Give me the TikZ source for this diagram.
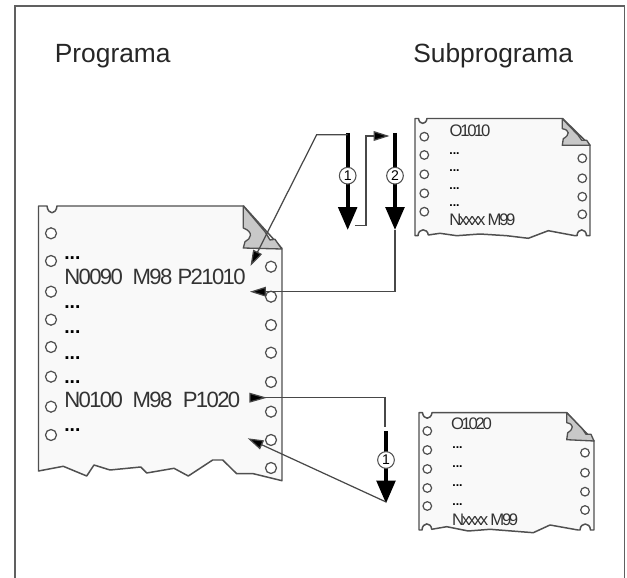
\documentclass[tikz,border=0pt]{standalone}
\usepackage{fontspec}
\setmainfont{Liberation Sans}
\newfontfamily\tightfont[LetterSpace=-7.5]{Liberation Sans}
\newfontfamily\smallfont[LetterSpace=-14]{Liberation Sans}
\usetikzlibrary{arrows.meta}
\definecolor{pagefill}{HTML}{F9F9F9}
\definecolor{foldfill}{HTML}{C8C8C8}
\definecolor{edgegray}{HTML}{505050}
\definecolor{linegray}{HTML}{484848}
\tikzset{
  page/.style={fill=pagefill, draw=edgegray, line width=0.85pt, line join=round},
  fold/.style={fill=foldfill, draw=edgegray, line width=0.75pt, line join=round},
  hole/.style={fill=white, draw=edgegray, line width=0.7pt},
  title/.style={anchor=base west, inner sep=0pt, font=\fontsize{15}{18}\selectfont, text=black!85},
  bigtext/.style={anchor=base west, inner sep=0pt, font=\fontsize{12.6}{15}\tightfont, text=black!80},
  smalltext/.style={anchor=base west, inner sep=0pt, font=\fontsize{9.5}{11}\smallfont, text=black!80},
  bigdots/.style={anchor=base west, inner sep=0pt, font=\fontsize{11}{13}\selectfont\bfseries},
  smalldots/.style={anchor=base west, inner sep=0pt, font=\fontsize{7}{8}\selectfont\bfseries},
  thin link/.style={draw=linegray, line width=0.7pt, line join=miter},
  link tip/.style={-{Triangle[length=9pt,width=5.5pt,fill=black]}},
  heavy/.style={draw=black, line width=2.2pt, -{Triangle[length=13pt,width=10.5pt,fill=black,sep=0pt]}, shorten >=0pt},
  number/.style={circle, draw=edgegray, fill=white, line width=0.6pt, inner sep=0pt, minimum size=9.5pt, font=\fontsize{8}{9}\selectfont}
}
\begin{document}
\begin{tikzpicture}[x=0.02cm, y=-0.02cm]
  \useasboundingbox (0,0) rectangle (627,578);
  % outer frame, open at the bottom
  \draw[draw=gray!75!black, line width=1.1pt] (15,578) -- (15,6) -- (624.5,6) -- (624.5,578);
  \node[title] (progtitle) at (54.5,63) {Programa};
  \node[title] (subtitle) at (413,63) {Subprograma};

  % main program sheet
  \draw[page] (38.5,206) -- (47,206) .. controls (48,215) and (56,215) .. (57,206) -- (243.5,206)
    -- (282,248.5) -- (282,480.7) -- (253.3,473.7) -- (236.7,473.7) -- (222.7,460) -- (212.7,460)
    -- (188.3,476) -- (174,468.3) -- (146.7,473) -- (140.7,467) -- (110,470) -- (94,465)
    -- (86.7,476) -- (63.3,466.3) -- (38.5,471) -- cycle;
  \draw[fold] (243.3,206) -- (243.3,228) .. controls (254,232) and (251,239) .. (245,241.7)
    -- (243.3,248) -- (281.7,249) -- (275,239.3) -- (270,240) -- (265,231.7) -- cycle;
  \foreach \yy in {233.3,261,291.7,319.7,347,376.7,406.7,435}
    \draw[hole] (51,\yy) circle[radius=5.5];
  \foreach \yy in {266.7,296.7,325,352.7,382,411.7,440,468}
    \draw[hole] (271,\yy) circle[radius=5.5];
  \node[bigdots] (maindotsa) at (64,259.5) {...};
  \node[bigtext] (calla) at (64,285) {N0090\hspace{5.5pt}M98\hspace{3pt}P21010};
  \foreach \yy/\nn in {309/b,334/c,359/d,383/e,432/f}
    \node[bigdots] (maindots\nn) at (64,\yy) {...};
  \node[bigtext] (callb) at (64,407.7) {N0100\hspace{5.5pt}M98\hspace{6pt}P1020};

  % first subprogram sheet
  \draw[page] (415,118.5) -- (418.5,118.5) .. controls (419.5,125) and (426,125) .. (427,118.5) -- (562.5,118.5)
    -- (590,145.3) -- (590,235.7) -- (586.5,235.7) .. controls (586,228) and (577.5,228) .. (577,235.7)
    -- (575,235.7) -- (548.3,230.7) -- (528.3,238.3) -- (506.7,235.7) -- (480,234) -- (456.7,235.7)
    -- (440,233.3) -- (428.3,235) .. controls (427.5,228) and (418.5,228) .. (418,235.7) -- (415,235.7) -- cycle;
  \draw[fold] (562.3,118.7) -- (562.3,128.7) .. controls (570,130) and (570,135) .. (563.3,138.7)
    -- (562.3,145.3) -- (590,145.3) -- (586.7,140.3) -- (581.7,140.3) -- (578.3,135.3) -- cycle;
  \foreach \yy in {136.7,155,174.3,193.3,211.7}
    \draw[hole] (424.3,\yy) circle[radius=4.3];
  \foreach \yy in {158.3,178.3,196.7,214.3}
    \draw[hole] (582.3,\yy) circle[radius=4.3];
  \node[smalltext] (subahead) at (449.3,136.7) {O1010};
  \foreach \yy/\nn in {154/a,172/b,190/c,207/d}
    \node[smalldots] (subadots\nn) at (449,\yy) {...};
  \node[smalltext] (subaend) at (449,225.7) {Nxxxx M99};

  % second subprogram sheet
  \draw[page] (419,412.7) -- (422.5,412.7) .. controls (423.5,420) and (431,420) .. (432,412.7) -- (566.7,412.7)
    -- (594,441) -- (594,530) -- (590.5,530) .. controls (590,522) and (580.5,522) .. (580,530)
    -- (578,530) -- (550,525) -- (533.3,532.7) -- (490,529.3) -- (468.3,531) -- (446.7,526.7)
    -- (431.7,529.3) .. controls (431,522) and (422.5,522) .. (422,530) -- (419,530) -- cycle;
  \draw[fold] (566.7,412.7) -- (566.7,422.7) .. controls (574,424) and (574,429) .. (567.7,432.7)
    -- (566.7,439.7) -- (594,441) -- (591,434.3) -- (586,434.3) -- (582.7,429.3) -- cycle;
  \foreach \yy in {431,450,469,488,506}
    \draw[hole] (427.3,\yy) circle[radius=4.3];
  \foreach \yy in {452.7,472.7,491.7,510}
    \draw[hole] (585,\yy) circle[radius=4.3];
  \node[smalltext] (subbhead) at (450.7,429.3) {O1020};
  \foreach \yy/\nn in {449/a,468/b,487/c,506/d}
    \node[smalldots] (subbdots\nn) at (452,\yy) {...};
  \node[smalltext] (subbend) at (451.7,525) {Nxxxx M99};

  % heavy arrows with their numbers
  \coordinate (atop) at (347.7,133);
  \coordinate (atip) at (347.7,230);
  \coordinate (btop) at (395,133);
  \coordinate (btip) at (395,230);
  \coordinate (ctop) at (386,431.5);
  \coordinate (ctip) at (386,503.5);
  \draw[heavy] (atop) -- (atip);
  \draw[heavy] (btop) -- (btip);
  \draw[heavy] (ctop) -- (ctip);
  \node[number] (numa) at (347.7,175.7) {1};
  \node[number] (numb) at (395,175.7) {2};
  \node[number] (numc) at (386,460) {1};

  % thin links between the sheets and the heavy arrows
  \coordinate (calltip) at (250.5,266);
  \coordinate (backtip) at (250,291.7);
  \coordinate (jumpout) at (249.5,397.7);
  \coordinate (retntip) at (247.7,438.3);
  \draw[thin link, link tip] (atop) ++(0,1.7) -- (316.7,134.7) -- (calltip);
  \draw[thin link, link tip] (355,225.7) -- (366,225.7) -- (366,136) -- (389.5,136);
  \draw[thin link, link tip] (btip) -- (395,291.7) -- (backtip);
  \draw[thin link, {Triangle[reversed,length=10pt,width=5.5pt,fill=black]}-] (jumpout) -- (385,397.7) -- (385,426.7);
  \draw[thin link, link tip] (ctip) ++(-1,-2) -- (retntip);
\end{tikzpicture}
\end{document}
